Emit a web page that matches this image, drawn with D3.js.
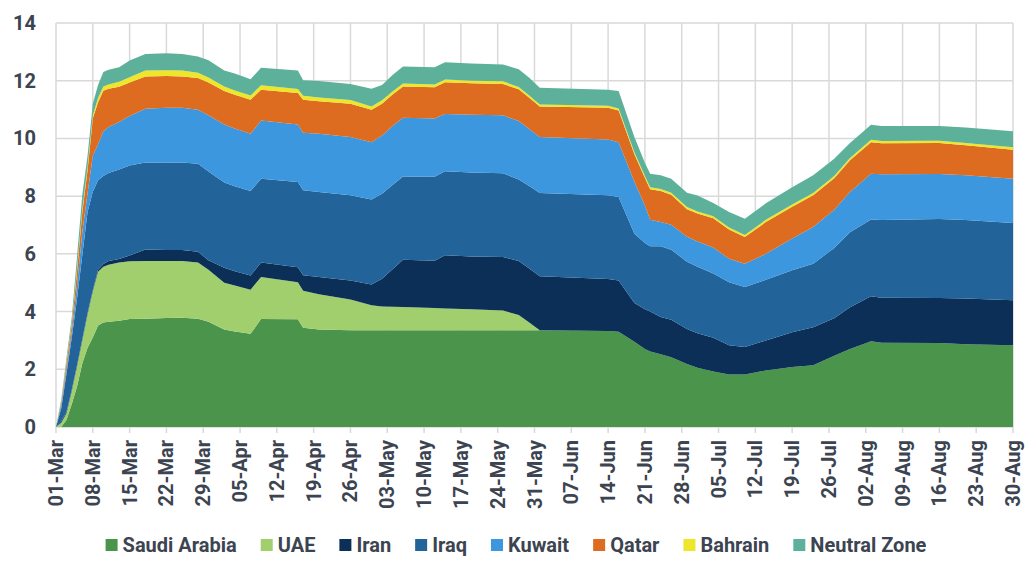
<!DOCTYPE html>
<html>
<head>
<meta charset="utf-8">
<script src="https://cdn.jsdelivr.net/npm/d3@7"></script>
<style>
  html, body { margin: 0; padding: 0; background: #fff; }
  svg { display: block; font-family: Roboto, "Noto Sans", sans-serif; font-weight: 700; }
</style>
</head>
<body>
<div id="chart"></div>
<script>
const seriesNames = ["Saudi Arabia", "UAE", "Iran", "Iraq", "Kuwait", "Qatar", "Bahrain", "Neutral Zone"];
const seriesColors = ["#4b944b", "#a1cf6e", "#0b2f57", "#22649a", "#3c97df", "#dd6b20", "#ede62a", "#5db19b"];

// days counted from 01-Mar
const dayOffsets = [0, 1, 2, 3, 4, 5, 6, 7, 8, 9, 10,
    12, 14, 17, 21, 24, 27, 29, 32, 34, 37, 39,
    46, 47, 50, 56, 60, 62, 64, 66, 72, 74,
    79, 85, 88, 90, 92,
    105, 107, 110, 112, 113, 115, 117, 120, 122, 125,
    128, 131, 135, 140, 144, 148, 151, 155, 157, 168,
    173, 182];

const saudiArabia = [0, 0, 0.25, 0.8, 1.4, 2.2, 2.75, 3.1, 3.52, 3.62, 3.65,
    3.68, 3.74, 3.75, 3.78, 3.79, 3.75, 3.65, 3.38, 3.31, 3.23, 3.74,
    3.73, 3.44, 3.38, 3.35, 3.35, 3.35, 3.35, 3.35, 3.35, 3.35,
    3.35, 3.35, 3.35, 3.35, 3.35,
    3.33, 3.3, 2.95, 2.7, 2.62, 2.52, 2.42, 2.18, 2.05, 1.92,
    1.82, 1.82, 1.96, 2.08, 2.14, 2.47, 2.7, 2.97, 2.92, 2.91,
    2.87, 2.83];
const uae = [0, 0.15, 0.23, 0.45, 0.7, 0.8, 1.15, 1.6, 1.86, 1.93, 1.97,
    2.02, 2.0, 2.0, 1.97, 1.96, 1.95, 1.8, 1.62, 1.59, 1.53, 1.46,
    1.29, 1.28, 1.22, 1.07, 0.87, 0.83, 0.82, 0.81, 0.77, 0.76,
    0.73, 0.69, 0.53, 0.27, 0,
    0, 0, 0, 0, 0, 0, 0, 0, 0, 0,
    0, 0, 0, 0, 0, 0, 0, 0, 0, 0,
    0, 0];
const iran = [0, 0.05, 0.05, 0.05, 0.05, 0.05, 0.05, 0.05, 0.07, 0.1, 0.13,
    0.12, 0.2, 0.4, 0.38, 0.38, 0.37, 0.33, 0.52, 0.5, 0.49, 0.5,
    0.52, 0.54, 0.6, 0.66, 0.72, 0.96, 1.3, 1.64, 1.64, 1.84,
    1.83, 1.85, 1.87, 1.87, 1.87,
    1.8, 1.78, 1.35, 1.38, 1.38, 1.29, 1.3, 1.22, 1.2, 1.17,
    1.01, 0.95, 1.04, 1.2, 1.32, 1.3, 1.45, 1.56, 1.56, 1.56,
    1.58, 1.56];
const iraq = [0, 0.45, 1.32, 1.8, 2.3, 2.9, 3.5, 3.4, 3.1, 3.05, 3.05,
    3.1, 3.12, 3.02, 3.04, 3.04, 3.05, 3.07, 2.95, 2.94, 2.93, 2.9,
    2.95, 2.94, 2.94, 2.95, 2.94, 2.94, 2.92, 2.88, 2.91, 2.91,
    2.91, 2.9, 2.83, 2.86, 2.89,
    2.9, 2.89, 2.4, 2.3, 2.26, 2.45, 2.42, 2.33, 2.3, 2.23,
    2.19, 2.08, 2.1, 2.15, 2.2, 2.43, 2.6, 2.66, 2.69, 2.74,
    2.72, 2.68];
const kuwait = [0, 0.1, 0.15, 0.2, 0.45, 0.8, 0.65, 1.25, 1.25, 1.55, 1.6,
    1.65, 1.72, 1.86, 1.89, 1.89, 1.87, 1.95, 2.01, 2.0, 1.98, 2.02,
    1.99, 2.0, 2.02, 2.02, 1.99, 2.02, 2.04, 2.04, 2.02, 1.99,
    2.0, 2.01, 2.02, 1.98, 1.94,
    1.93, 1.9, 1.8, 1.3, 0.92, 0.84, 0.87, 0.86, 0.88, 0.9,
    0.81, 0.81, 0.9, 1.1, 1.27, 1.33, 1.39, 1.59, 1.59, 1.56,
    1.55, 1.53];
const qatar = [0, 0.1, 0.2, 0.25, 0.5, 0.7, 0.8, 1.3, 1.45, 1.4, 1.32,
    1.22, 1.16, 1.12, 1.1, 1.09, 1.1, 1.14, 1.16, 1.17, 1.18, 1.07,
    1.09, 1.14, 1.13, 1.15, 1.12, 1.1, 1.09, 1.08, 1.08, 1.1,
    1.09, 1.09, 1.1, 1.08, 1.06,
    1.1, 1.1, 0.95, 0.95, 1.06, 1.08, 1.04, 0.96, 0.97, 1.01,
    1.01, 0.92, 1.1, 1.1, 1.1, 1.09, 1.1, 1.09, 1.07, 1.07,
    1.04, 1.01];
const bahrain = [0, 0.02, 0.05, 0.05, 0.1, 0.1, 0.1, 0.1, 0.15, 0.15, 0.15,
    0.17, 0.18, 0.2, 0.2, 0.2, 0.19, 0.17, 0.16, 0.15, 0.15, 0.15,
    0.14, 0.14, 0.13, 0.13, 0.12, 0.12, 0.11, 0.1, 0.1, 0.09,
    0.09, 0.09, 0.08, 0.08, 0.07,
    0.07, 0.07, 0.07, 0.07, 0.07, 0.07, 0.07, 0.07, 0.07, 0.07,
    0.07, 0.07, 0.08, 0.08, 0.08, 0.08, 0.08, 0.08, 0.08, 0.08,
    0.08, 0.08];
const neutralZone = [0, 0.08, 0.15, 0.2, 0.4, 0.5, 0.4, 0.4, 0.45, 0.5, 0.51,
    0.51, 0.58, 0.58, 0.59, 0.58, 0.56, 0.6, 0.55, 0.59, 0.56, 0.61,
    0.64, 0.54, 0.57, 0.56, 0.61, 0.53, 0.57, 0.59, 0.6, 0.6,
    0.6, 0.58, 0.62, 0.61, 0.58,
    0.56, 0.6, 0.53, 0.45, 0.47, 0.47, 0.48, 0.5, 0.55, 0.46,
    0.54, 0.57, 0.57, 0.6, 0.61, 0.6, 0.52, 0.52, 0.52, 0.51,
    0.54, 0.56];

const yTicks = [0, 2, 4, 6, 8, 10, 12, 14];

const seriesValues = [saudiArabia, uae, iran, iraq, kuwait, qatar, bahrain, neutralZone];
const startDate = new Date(Date.UTC(2020, 2, 1));
const endDate = new Date(Date.UTC(2020, 7, 30));

const table = dayOffsets.map((d, i) => {
    const row = { date: d3.utcDay.offset(startDate, d) };
    seriesNames.forEach((name, k) => { row[name] = seriesValues[k][i]; });
    return row;
});

const width = 1036, height = 577;
const margin = { top: 23, right: 23, bottom: 150, left: 56 };
const textColor = "#3c4451";
const gridColor = "#d9d9d9";

const svg = d3.select("#chart").append("svg")
    .attr("width", width)
    .attr("height", height);

const x = d3.scaleUtc()
    .domain([startDate, endDate])
    .range([margin.left, width - margin.right]);

const y = d3.scaleLinear()
    .domain([0, 14])
    .range([height - margin.bottom, margin.top]);

const xTicks = d3.utcDay.range(startDate, d3.utcDay.offset(endDate, 1), 7);

// grid
svg.append("g")
    .selectAll("line")
    .data(yTicks)
    .join("line")
    .attr("x1", margin.left)
    .attr("x2", width - margin.right)
    .attr("y1", d => y(d))
    .attr("y2", d => y(d))
    .attr("stroke", gridColor)
    .attr("stroke-width", 1.5);

svg.append("g")
    .selectAll("line")
    .data(xTicks)
    .join("line")
    .attr("x1", d => x(d))
    .attr("x2", d => x(d))
    .attr("y1", margin.top)
    .attr("y2", y(0) + 6)
    .attr("stroke", gridColor)
    .attr("stroke-width", 1.5);

const stack = d3.stack().keys(seriesNames);
const layers = stack(table);

const area = d3.area()
    .x(d => x(d.data.date))
    .y0(d => y(d[0]))
    .y1(d => y(d[1]));

svg.append("g")
    .selectAll("path")
    .data(layers)
    .join("path")
    .attr("fill", (d, i) => seriesColors[i])
    .attr("d", area);

// y axis labels
svg.append("g")
    .selectAll("text")
    .data(yTicks)
    .join("text")
    .attr("x", 36)
    .attr("y", d => y(d))
    .attr("dy", "0.35em")
    .attr("text-anchor", "end")
    .attr("fill", textColor)
    .attr("font-size", 20)
    .text(d => d);

// x axis labels
const fmt = d3.utcFormat("%d-%b");
svg.append("g")
    .selectAll("text")
    .data(xTicks)
    .join("text")
    .attr("transform", d => `translate(${x(d)},${y(0) + 13}) rotate(-90)`)
    .attr("dy", "0.35em")
    .attr("text-anchor", "end")
    .attr("fill", textColor)
    .attr("font-size", 20)
    .text(fmt);

// legend
const legend = svg.append("g").attr("font-size", 20);
const items = legend.selectAll("g")
    .data(seriesNames)
    .join("g");
items.append("rect")
    .attr("width", 12)
    .attr("height", 12)
    .attr("y", -6)
    .attr("fill", (d, i) => seriesColors[i]);
items.append("text")
    .attr("x", 17)
    .attr("dy", "0.35em")
    .attr("fill", textColor)
    .text(d => d);

let pos = 0;
const offsets = [];
items.each(function () {
    offsets.push(pos);
    const w = this.querySelector("text").getComputedTextLength();
    pos += 17 + w + 24;
});
const total = pos - 24;
const startX = 516 - total / 2;
items.attr("transform", (d, i) => `translate(${startX + offsets[i]},545)`);
</script>
</body>
</html>
